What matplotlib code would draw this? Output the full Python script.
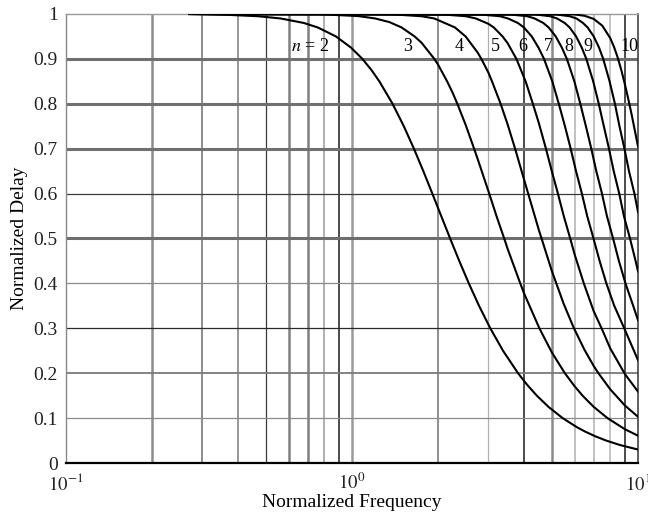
import matplotlib
matplotlib.use("Agg")
import matplotlib.pyplot as plt
from matplotlib.ticker import NullLocator

plt.rcParams['font.family'] = ['Liberation Serif', 'DejaVu Serif']
plt.rcParams['mathtext.fontset'] = 'stix'

# Normalized group delay of Bessel filters, orders 2..10
freq_n2 = [0.27, 0.3105, 0.3706, 0.4694, 0.563, 0.6784, 0.759, 0.8785, 0.9922, 1.087,
           1.1697, 1.246, 1.386, 1.5175, 1.646, 1.7756, 1.909, 2.0507, 2.203, 2.3713,
           2.561, 2.7808, 3.044, 3.373, 3.806, 4.0848, 4.427, 4.8644, 5.45, 6.1055,
           6.532, 7.059, 7.737, 8.654, 10.0]
delay_n2 = [1.0, 0.999, 0.998, 0.995, 0.99, 0.98, 0.97, 0.95, 0.925, 0.9,
            0.875, 0.85, 0.8, 0.75, 0.7, 0.65, 0.6, 0.55, 0.5, 0.45,
            0.4, 0.35, 0.3, 0.25, 0.2, 0.175, 0.15, 0.125, 0.1, 0.08,
            0.07, 0.06, 0.05, 0.04, 0.030]

freq_n3 = [0.27, 0.797, 1.0, 1.062, 1.205, 1.35, 1.49, 1.655, 1.75, 1.94, 2.0, 2.15,
           2.25, 2.335, 2.5, 2.672, 2.75, 3.018, 3.2, 3.405, 3.5, 3.875, 4.0, 4.52,
           5.0, 5.55, 6.0, 6.4, 7.0, 7.82, 9.0, 10.0]
delay_n3 = [1.0, 0.999, 0.996, 0.995, 0.99, 0.982, 0.97, 0.95, 0.936, 0.9, 0.887, 0.85,
            0.824, 0.8, 0.752, 0.7, 0.677, 0.6, 0.55, 0.5, 0.477, 0.4, 0.377, 0.3,
            0.246, 0.2, 0.171, 0.15, 0.125, 0.1, 0.0752, 0.0608]

freq_n4 = [0.27, 1.0, 1.40, 1.75, 1.94, 2.29, 2.495, 2.75, 2.833, 3.0, 3.086, 3.308,
           3.5, 3.717, 4.0, 4.13, 4.5, 4.60, 5.0, 5.18, 5.5, 5.97, 6.5, 7.0, 7.27,
           8.0, 9.0, 10.0]
delay_n4 = [1.0, 0.9999, 0.999, 0.995, 0.99, 0.97, 0.95, 0.914, 0.9, 0.869, 0.85, 0.8,
            0.754, 0.7, 0.630, 0.6, 0.519, 0.5, 0.427, 0.4, 0.354, 0.3, 0.252, 0.216, 0.2,
            0.164, 0.128, 0.103]

freq_n5 = [0.27, 1.5, 2.075, 2.5, 2.71, 3.0, 3.13, 3.36, 3.5, 3.756, 4.045, 4.289,
           4.5, 4.765, 5.0, 5.247, 5.5, 5.794, 6.0, 6.464, 7.0, 7.458, 8.0, 9.0, 10.0]
delay_n5 = [1.0, 1.0, 0.999, 0.995, 0.99, 0.978, 0.97, 0.95, 0.935, 0.9, 0.85, 0.8,
            0.757, 0.7, 0.649, 0.6, 0.550, 0.5, 0.465, 0.4, 0.338, 0.3, 0.255, 0.198, 0.159]

freq_n6 = [0.27, 2.795, 3.29, 3.51, 3.80, 3.99, 4.25, 4.488, 4.691, 5.015, 5.284, 5.553,
           5.815, 6.071, 6.364, 6.642, 6.988, 7.34, 7.75, 8.26, 8.95, 10.0]
delay_n6 = [1.0, 0.999, 0.995, 0.99, 0.98, 0.97, 0.95, 0.925, 0.9, 0.85, 0.8, 0.75,
            0.7, 0.65, 0.6, 0.55, 0.5, 0.45, 0.4, 0.35, 0.3, 0.229]

freq_n7 = [0.27, 3.565, 4.10, 4.35, 4.665, 4.87, 5.155, 5.418, 5.639, 5.99, 6.284, 6.573,
           6.865, 7.147, 7.481, 7.784, 8.182, 8.573, 9.04, 9.62, 10.0]
delay_n7 = [1.0, 0.999, 0.995, 0.99, 0.98, 0.97, 0.95, 0.925, 0.9, 0.85, 0.8, 0.75,
            0.7, 0.65, 0.6, 0.55, 0.5, 0.45, 0.4, 0.35, 0.318]

freq_n8 = [0.27, 4.365, 4.93, 5.21, 5.54, 5.765, 6.075, 6.358, 6.596, 6.97, 7.291, 7.593,
           7.915, 8.223, 8.598, 8.926, 9.376, 9.806, 10.0]
delay_n8 = [1.0, 0.999, 0.995, 0.99, 0.98, 0.97, 0.95, 0.925, 0.9, 0.85, 0.8, 0.75,
            0.7, 0.65, 0.6, 0.55, 0.5, 0.45, 0.427]

freq_n9 = [0.27, 5.165, 5.765, 6.09, 6.42, 6.665, 7.0, 7.308, 7.556, 7.954, 8.303, 8.613,
           8.965, 9.299, 9.715, 10.0]
delay_n9 = [1.0, 0.999, 0.995, 0.99, 0.98, 0.97, 0.95, 0.925, 0.9, 0.85, 0.8, 0.75,
            0.7, 0.65, 0.6, 0.559]

freq_n10 = [0.27, 6.0, 6.5, 7.0, 7.5, 8.0, 8.25, 8.5, 8.75, 9.0, 9.25, 9.5, 9.75, 10.0]
delay_n10 = [1.0, 0.999, 0.996, 0.989, 0.974, 0.946, 0.926, 0.902, 0.874, 0.843, 0.810,
             0.776, 0.740, 0.705]

curve_freqs = [freq_n2, freq_n3, freq_n4, freq_n5, freq_n6, freq_n7, freq_n8, freq_n9, freq_n10]
curve_delays = [delay_n2, delay_n3, delay_n4, delay_n5, delay_n6, delay_n7, delay_n8,
                delay_n9, delay_n10]

# order labels along the top of the plot
label_text = ['$n$ = 2', '3', '4', '5', '6', '7', '8', '9', '10']
label_x = [0.715, 1.565, 2.36, 3.18, 3.96, 4.84, 5.73, 6.68, 9.30]
label_y = 0.927

# uneven grid: (position, colour, width in points)
vgrid = [(0.2, '#8c8c8c', 1.8), (0.3, '#6e6e6e', 1.1), (0.4, '#7a7a7a', 1.1),
         (0.5, '#3a3a3a', 0.9), (0.6, '#808080', 1.8), (0.7, '#808080', 1.8),
         (0.8, '#9a9a9a', 1.1), (0.9, '#1a1a1a', 1.1), (1.0, '#9a9a9a', 1.8),
         (2.0, '#707070', 1.1), (3.0, '#b0b0b0', 0.9), (4.0, '#1a1a1a', 1.1),
         (5.0, '#8a8a8a', 1.8), (6.0, '#b0b0b0', 1.1), (7.0, '#b0b0b0', 1.1),
         (8.0, '#b5b5b5', 1.1), (9.0, '#1a1a1a', 1.1)]
hgrid = [(0.1, '#8a8a8a', 0.9), (0.2, '#7a7a7a', 1.3), (0.3, '#2a2a2a', 0.9),
         (0.4, '#8a8a8a', 0.9), (0.5, '#6e6e6e', 2.2), (0.6, '#3a3a3a', 0.9),
         (0.7, '#707070', 2.2), (0.8, '#707070', 2.2), (0.9, '#707070', 2.2)]

fig = plt.figure(figsize=(6.48, 5.14), dpi=100)
ax = fig.add_axes([0.1019, 0.0992, 0.8827, 0.8736])

for x, c, lw in vgrid:
    ax.axvline(x, color=c, lw=lw, zorder=1)
for y, c, lw in hgrid:
    ax.axhline(y, color=c, lw=lw, zorder=1)

for f, d in zip(curve_freqs, curve_delays):
    ax.plot(f, d, color='black', lw=1.5, zorder=3, solid_joinstyle='round')

for txt, x in zip(label_text, label_x):
    ax.text(x, label_y, txt, ha='center', va='center', fontsize=13, zorder=4, clip_on=False)

ax.set_xscale('log')
ax.set_xlim(0.1, 10)
ax.set_ylim(0, 1)
ax.set_xticks([0.1, 1, 10])
ax.set_xticklabels(['$10^{-1}$', '$10^{0}$', '$10^{1}$'])
ax.xaxis.set_minor_locator(NullLocator())
ax.set_yticks([i / 10 for i in range(11)])
ax.set_yticklabels(['0', '0.1', '0.2', '0.3', '0.4', '0.5', '0.6', '0.7', '0.8', '0.9', '1'])
ax.tick_params(length=0, colors='#222222')
ax.tick_params(axis='y', pad=6, labelsize=14)
ax.tick_params(axis='x', pad=7, labelsize=13.5)

ax.spines['bottom'].set_linewidth(1.6)
ax.spines['bottom'].set_color('black')
ax.spines['left'].set_color('#888888')
ax.spines['left'].set_linewidth(1.0)
ax.spines['top'].set_color('#999999')
ax.spines['top'].set_linewidth(1.0)
ax.spines['right'].set_color('#333333')
ax.spines['right'].set_linewidth(1.1)

ax.set_xlabel('Normalized Frequency', fontsize=14, labelpad=0)
ax.set_ylabel('Normalized Delay', fontsize=14, labelpad=4)

fig.savefig('out.png', dpi=100)
